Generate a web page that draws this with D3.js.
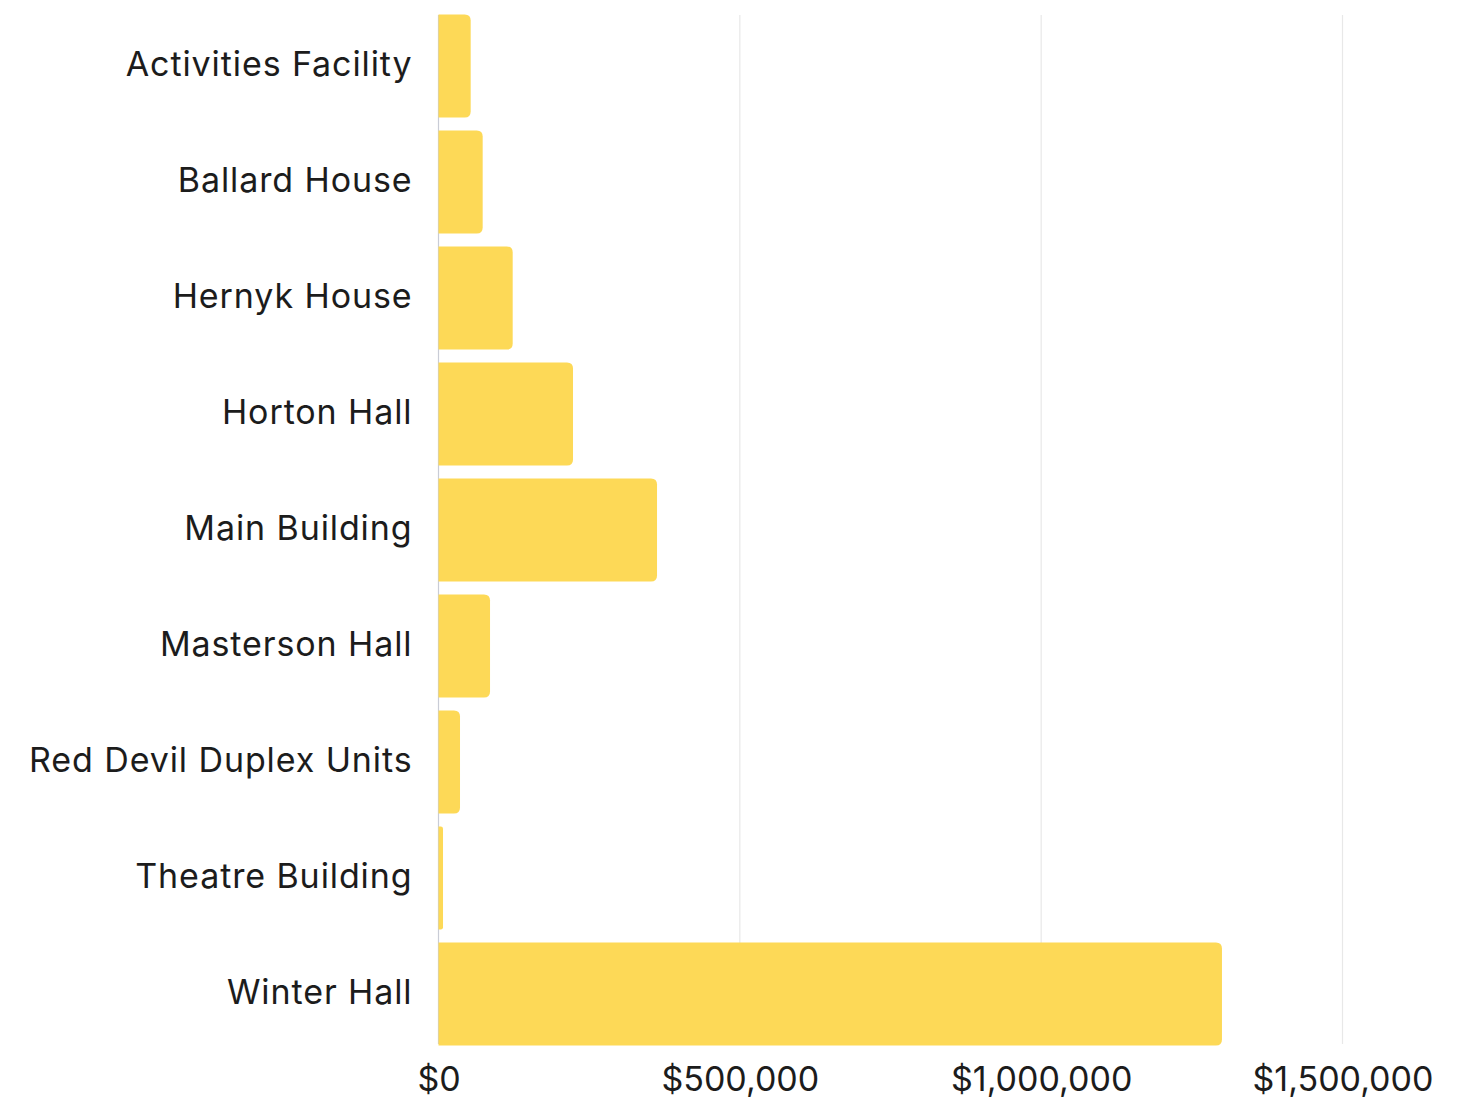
<!DOCTYPE html>
<html>
<head>
<meta charset="utf-8">
<script src="https://cdn.jsdelivr.net/npm/d3@7"></script>
<style>
  html, body { margin: 0; padding: 0; background: #ffffff; }
  svg { display: block; }
  .tick text { font-family: Inter, "Noto Sans", sans-serif; fill: #1c1c1c; }
</style>
</head>
<body>
<svg id="chart" width="1470" height="1100"></svg>
<script>
// Spending by building (USD)
const buildings = [
  "Activities Facility",
  "Ballard House",
  "Hernyk House",
  "Horton Hall",
  "Main Building",
  "Masterson Hall",
  "Red Devil Duplex Units",
  "Theatre Building",
  "Winter Hall"
];
const amounts = [53400, 73300, 123100, 223200, 362600, 85500, 35700, 7500, 1300000];
const xTicks = [0, 500000, 1000000, 1500000];

const svg = d3.select("#chart");
const plotLeft = 438.5, plotRight = 1342.5;
const plotTop = 8, plotBottom = 1052;

const x = d3.scaleLinear().domain([0, 1500000]).range([plotLeft, plotRight]);
const y = d3.scaleBand().domain(buildings).range([plotTop, plotBottom])
  .paddingInner(0.11).paddingOuter(0.055);

// vertical grid lines
svg.append("g")
  .selectAll("line")
  .data(xTicks)
  .join("line")
  .attr("x1", d => x(d)).attr("x2", d => x(d))
  .attr("y1", 15).attr("y2", 1044)
  .attr("stroke", d => d === 0 ? "#c9ccd6" : "#e8e8e8")
  .attr("stroke-width", 1.2);

// bars: square on the baseline, rounded at the end
const r = 6;
function barPath(d, i) {
  const x0 = x(0), x1 = x(d), y0 = y(buildings[i]), h = y.bandwidth();
  const w = x1 - x0;
  const rr = Math.min(r, w / 2);
  return `M${x0},${y0}H${x1 - rr}Q${x1},${y0} ${x1},${y0 + rr}` +
         `V${y0 + h - rr}Q${x1},${y0 + h} ${x1 - rr},${y0 + h}H${x0}Z`;
}
svg.append("g")
  .selectAll("path")
  .data(amounts)
  .join("path")
  .attr("d", barPath)
  .attr("fill", "#fdd957");

// category axis
const yAxis = svg.append("g")
  .attr("transform", `translate(${plotLeft - 26},0)`)
  .call(d3.axisLeft(y).tickSize(0).tickPadding(0));
yAxis.select(".domain").remove();
yAxis.selectAll("text")
  .attr("font-size", 34)
  .attr("letter-spacing", 0.9)
  .attr("dy", "0.3em");

// value axis
const fmt = d3.format("$,");
const xAxis = svg.append("g")
  .attr("transform", `translate(0,1058)`)
  .call(d3.axisBottom(x).tickValues(xTicks).tickFormat(fmt).tickSize(0).tickPadding(0));
xAxis.select(".domain").remove();
xAxis.selectAll("text")
  .attr("font-size", 34)
  .attr("dy", "0.97em");
</script>
</body>
</html>
